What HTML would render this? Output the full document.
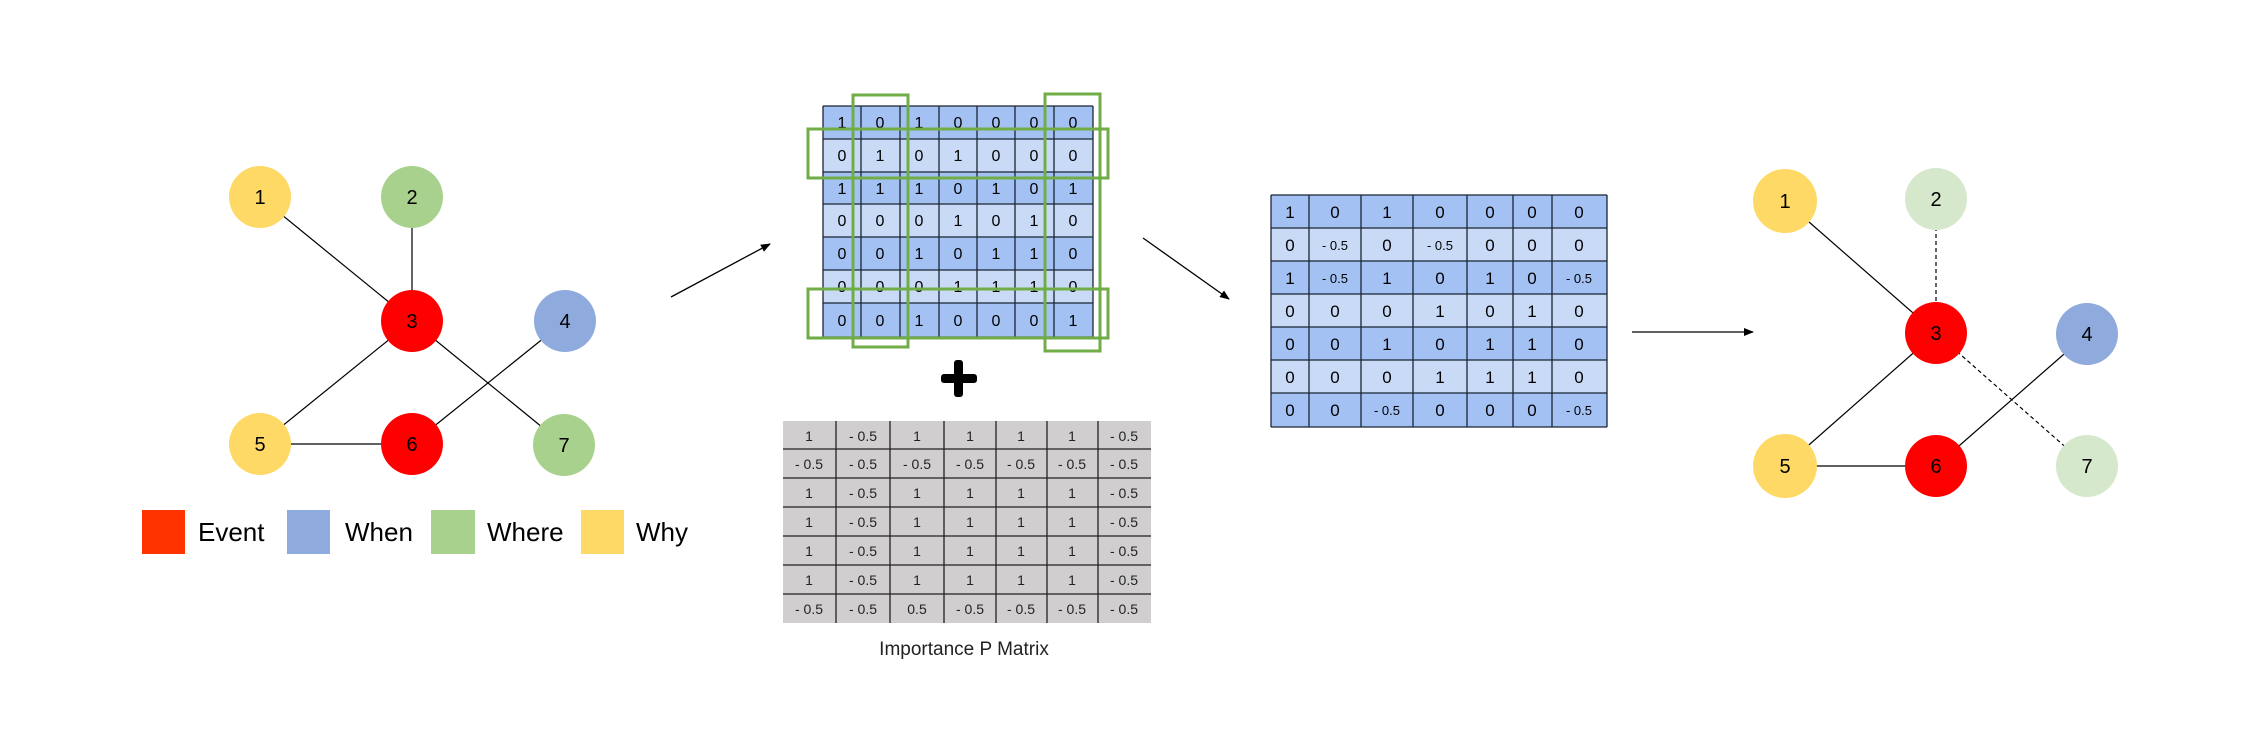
<!DOCTYPE html>
<html><head><meta charset="utf-8"><style>
html,body{margin:0;padding:0;background:#fff;}
svg{display:block;font-family:"Liberation Sans",Arial,sans-serif;}
</style></head><body>
<svg width="2268" height="756" viewBox="0 0 2268 756" xmlns="http://www.w3.org/2000/svg">
<defs>
<marker id="ah" markerWidth="10" markerHeight="10" refX="9" refY="5" orient="auto" markerUnits="userSpaceOnUse">
<path d="M0,1 L10,5 L0,9 z" fill="#000"/></marker>
</defs>
<rect width="2268" height="756" fill="#fff"/>

<!-- Left graph edges -->
<g stroke="#000" stroke-width="1.2">
<line x1="260" y1="197" x2="412" y2="321"/>
<line x1="412" y1="197" x2="412" y2="321"/>
<line x1="412" y1="321" x2="260" y2="444"/>
<line x1="412" y1="321" x2="564" y2="445"/>
<line x1="565" y1="321" x2="412" y2="444"/>
<line x1="260" y1="444" x2="412" y2="444"/>
</g>
<g font-size="20" text-anchor="middle">
<circle cx="260" cy="197" r="31" fill="#ffd966"/><text x="260" y="204">1</text>
<circle cx="412" cy="197" r="31" fill="#a9d18e"/><text x="412" y="204">2</text>
<circle cx="412" cy="321" r="31" fill="#ff0000"/><text x="412" y="328">3</text>
<circle cx="565" cy="321" r="31" fill="#8faadc"/><text x="565" y="328">4</text>
<circle cx="260" cy="444" r="31" fill="#ffd966"/><text x="260" y="451">5</text>
<circle cx="412" cy="444" r="31" fill="#ff0000"/><text x="412" y="451">6</text>
<circle cx="564" cy="445" r="31" fill="#a9d18e"/><text x="564" y="452">7</text>
</g>
<!-- legend -->
<g font-size="26">
<rect x="142" y="510" width="43" height="44" fill="#ff3300"/><text x="198" y="541">Event</text>
<rect x="287" y="510" width="43" height="44" fill="#8faadc"/><text x="345" y="541">When</text>
<rect x="431" y="510" width="44" height="44" fill="#a9d18e"/><text x="487" y="541">Where</text>
<rect x="581" y="510" width="43" height="44" fill="#ffd966"/><text x="636" y="541">Why</text>
</g>

<!-- arrows -->
<g stroke="#000" stroke-width="1.3" marker-end="url(#ah)">
<line x1="671" y1="297" x2="770" y2="244"/>
<line x1="1143" y1="238" x2="1229" y2="299"/>
<line x1="1632" y1="332" x2="1753" y2="332"/>
</g>

<!-- Matrix 1 -->
<g id="m1" font-size="16" text-anchor="middle">
<rect x="823" y="106" width="270" height="33" fill="#a3c1f3"/>
<rect x="823" y="139" width="270" height="33" fill="#c9daf7"/>
<rect x="823" y="172" width="270" height="32" fill="#a3c1f3"/>
<rect x="823" y="204" width="270" height="33" fill="#c9daf7"/>
<rect x="823" y="237" width="270" height="33" fill="#a3c1f3"/>
<rect x="823" y="270" width="270" height="33" fill="#c9daf7"/>
<rect x="823" y="303" width="270" height="34" fill="#a3c1f3"/>
<g stroke="#1a2533" stroke-width="1.3">
<line x1="823" y1="106" x2="823" y2="337"/><line x1="861" y1="106" x2="861" y2="337"/><line x1="900" y1="106" x2="900" y2="337"/><line x1="939" y1="106" x2="939" y2="337"/><line x1="977" y1="106" x2="977" y2="337"/><line x1="1015" y1="106" x2="1015" y2="337"/><line x1="1054" y1="106" x2="1054" y2="337"/><line x1="1093" y1="106" x2="1093" y2="337"/>
<line x1="823" y1="106" x2="1093" y2="106"/><line x1="823" y1="139" x2="1093" y2="139"/><line x1="823" y1="172" x2="1093" y2="172"/><line x1="823" y1="204" x2="1093" y2="204"/><line x1="823" y1="237" x2="1093" y2="237"/><line x1="823" y1="270" x2="1093" y2="270"/><line x1="823" y1="303" x2="1093" y2="303"/><line x1="823" y1="337" x2="1093" y2="337"/>
</g>
<g>
<text x="842" y="128">1</text><text x="880" y="128">0</text><text x="919" y="128">1</text><text x="958" y="128">0</text><text x="996" y="128">0</text><text x="1034" y="128">0</text><text x="1073" y="128">0</text>
<text x="842" y="161">0</text><text x="880" y="161">1</text><text x="919" y="161">0</text><text x="958" y="161">1</text><text x="996" y="161">0</text><text x="1034" y="161">0</text><text x="1073" y="161">0</text>
<text x="842" y="194">1</text><text x="880" y="194">1</text><text x="919" y="194">1</text><text x="958" y="194">0</text><text x="996" y="194">1</text><text x="1034" y="194">0</text><text x="1073" y="194">1</text>
<text x="842" y="226">0</text><text x="880" y="226">0</text><text x="919" y="226">0</text><text x="958" y="226">1</text><text x="996" y="226">0</text><text x="1034" y="226">1</text><text x="1073" y="226">0</text>
<text x="842" y="259">0</text><text x="880" y="259">0</text><text x="919" y="259">1</text><text x="958" y="259">0</text><text x="996" y="259">1</text><text x="1034" y="259">1</text><text x="1073" y="259">0</text>
<text x="842" y="292">0</text><text x="880" y="292">0</text><text x="919" y="292">0</text><text x="958" y="292">1</text><text x="996" y="292">1</text><text x="1034" y="292">1</text><text x="1073" y="292">0</text>
<text x="842" y="326">0</text><text x="880" y="326">0</text><text x="919" y="326">1</text><text x="958" y="326">0</text><text x="996" y="326">0</text><text x="1034" y="326">0</text><text x="1073" y="326">1</text>
</g>
<g fill="none" stroke="#70ad47" stroke-width="3">
<rect x="853" y="95" width="55" height="252"/>
<rect x="1045" y="94" width="55" height="257"/>
<rect x="808" y="129" width="300" height="49"/>
<rect x="808" y="289" width="300" height="49"/>
</g>
</g>

<!-- plus -->
<rect x="941" y="374" width="36" height="9" rx="3" fill="#000"/>
<rect x="954" y="360" width="9" height="37" rx="3" fill="#000"/>

<!-- P matrix -->
<rect x="783" y="421" width="368" height="202" fill="#d0cece"/>
<g stroke="#222" stroke-width="1.3">
<line x1="836" y1="421" x2="836" y2="623"/><line x1="890" y1="421" x2="890" y2="623"/><line x1="944" y1="421" x2="944" y2="623"/><line x1="996" y1="421" x2="996" y2="623"/><line x1="1047" y1="421" x2="1047" y2="623"/><line x1="1098" y1="421" x2="1098" y2="623"/>
<line x1="783" y1="449" x2="1151" y2="449"/><line x1="783" y1="478" x2="1151" y2="478"/><line x1="783" y1="507" x2="1151" y2="507"/><line x1="783" y1="536" x2="1151" y2="536"/><line x1="783" y1="565" x2="1151" y2="565"/><line x1="783" y1="594" x2="1151" y2="594"/>
</g>
<g font-size="14" text-anchor="middle" fill="#222">
<text x="809" y="441">1</text><text x="863" y="441">- 0.5</text><text x="917" y="441">1</text><text x="970" y="441">1</text><text x="1021" y="441">1</text><text x="1072" y="441">1</text><text x="1124" y="441">- 0.5</text>
<text x="809" y="469">- 0.5</text><text x="863" y="469">- 0.5</text><text x="917" y="469">- 0.5</text><text x="970" y="469">- 0.5</text><text x="1021" y="469">- 0.5</text><text x="1072" y="469">- 0.5</text><text x="1124" y="469">- 0.5</text>
<text x="809" y="498">1</text><text x="863" y="498">- 0.5</text><text x="917" y="498">1</text><text x="970" y="498">1</text><text x="1021" y="498">1</text><text x="1072" y="498">1</text><text x="1124" y="498">- 0.5</text>
<text x="809" y="527">1</text><text x="863" y="527">- 0.5</text><text x="917" y="527">1</text><text x="970" y="527">1</text><text x="1021" y="527">1</text><text x="1072" y="527">1</text><text x="1124" y="527">- 0.5</text>
<text x="809" y="556">1</text><text x="863" y="556">- 0.5</text><text x="917" y="556">1</text><text x="970" y="556">1</text><text x="1021" y="556">1</text><text x="1072" y="556">1</text><text x="1124" y="556">- 0.5</text>
<text x="809" y="585">1</text><text x="863" y="585">- 0.5</text><text x="917" y="585">1</text><text x="970" y="585">1</text><text x="1021" y="585">1</text><text x="1072" y="585">1</text><text x="1124" y="585">- 0.5</text>
<text x="809" y="614">- 0.5</text><text x="863" y="614">- 0.5</text><text x="917" y="614">0.5</text><text x="970" y="614">- 0.5</text><text x="1021" y="614">- 0.5</text><text x="1072" y="614">- 0.5</text><text x="1124" y="614">- 0.5</text>
</g>
<text x="964" y="655" font-size="19" text-anchor="middle" fill="#222">Importance P Matrix</text>

<!-- Result matrix -->
<g font-size="17" text-anchor="middle">
<rect x="1271" y="195" width="336" height="33" fill="#a3c1f3"/>
<rect x="1271" y="228" width="336" height="33" fill="#c9daf7"/>
<rect x="1271" y="261" width="336" height="33" fill="#a3c1f3"/>
<rect x="1271" y="294" width="336" height="33" fill="#c9daf7"/>
<rect x="1271" y="327" width="336" height="33" fill="#a3c1f3"/>
<rect x="1271" y="360" width="336" height="33" fill="#c9daf7"/>
<rect x="1271" y="393" width="336" height="34" fill="#a3c1f3"/>
<g stroke="#1a2533" stroke-width="1.3">
<line x1="1271" y1="195" x2="1271" y2="427"/><line x1="1309" y1="195" x2="1309" y2="427"/><line x1="1361" y1="195" x2="1361" y2="427"/><line x1="1413" y1="195" x2="1413" y2="427"/><line x1="1467" y1="195" x2="1467" y2="427"/><line x1="1513" y1="195" x2="1513" y2="427"/><line x1="1552" y1="195" x2="1552" y2="427"/><line x1="1607" y1="195" x2="1607" y2="427"/>
<line x1="1271" y1="195" x2="1607" y2="195"/><line x1="1271" y1="228" x2="1607" y2="228"/><line x1="1271" y1="261" x2="1607" y2="261"/><line x1="1271" y1="294" x2="1607" y2="294"/><line x1="1271" y1="327" x2="1607" y2="327"/><line x1="1271" y1="360" x2="1607" y2="360"/><line x1="1271" y1="393" x2="1607" y2="393"/><line x1="1271" y1="427" x2="1607" y2="427"/>
</g>
<g>
<text x="1290" y="218">1</text><text x="1335" y="218">0</text><text x="1387" y="218">1</text><text x="1440" y="218">0</text><text x="1490" y="218">0</text><text x="1532" y="218">0</text><text x="1579" y="218">0</text>
<text x="1290" y="251">0</text><text x="1335" y="250" font-size="13">- 0.5</text><text x="1387" y="251">0</text><text x="1440" y="250" font-size="13">- 0.5</text><text x="1490" y="251">0</text><text x="1532" y="251">0</text><text x="1579" y="251">0</text>
<text x="1290" y="284">1</text><text x="1335" y="283" font-size="13">- 0.5</text><text x="1387" y="284">1</text><text x="1440" y="284">0</text><text x="1490" y="284">1</text><text x="1532" y="284">0</text><text x="1579" y="283" font-size="13">- 0.5</text>
<text x="1290" y="317">0</text><text x="1335" y="317">0</text><text x="1387" y="317">0</text><text x="1440" y="317">1</text><text x="1490" y="317">0</text><text x="1532" y="317">1</text><text x="1579" y="317">0</text>
<text x="1290" y="350">0</text><text x="1335" y="350">0</text><text x="1387" y="350">1</text><text x="1440" y="350">0</text><text x="1490" y="350">1</text><text x="1532" y="350">1</text><text x="1579" y="350">0</text>
<text x="1290" y="383">0</text><text x="1335" y="383">0</text><text x="1387" y="383">0</text><text x="1440" y="383">1</text><text x="1490" y="383">1</text><text x="1532" y="383">1</text><text x="1579" y="383">0</text>
<text x="1290" y="416">0</text><text x="1335" y="416">0</text><text x="1387" y="415" font-size="13">- 0.5</text><text x="1440" y="416">0</text><text x="1490" y="416">0</text><text x="1532" y="416">0</text><text x="1579" y="415" font-size="13">- 0.5</text>
</g>
</g>

<!-- Right graph -->
<g stroke="#000" stroke-width="1.2">
<line x1="1785" y1="201" x2="1936" y2="333"/>
<line x1="1936" y1="199" x2="1936" y2="333" stroke-dasharray="4,3"/>
<line x1="1936" y1="333" x2="1785" y2="466"/>
<line x1="1936" y1="333" x2="2087" y2="466" stroke-dasharray="4,3"/>
<line x1="2087" y1="334" x2="1936" y2="466"/>
<line x1="1785" y1="466" x2="1936" y2="466"/>
</g>
<g font-size="20" text-anchor="middle">
<circle cx="1785" cy="201" r="32" fill="#ffd966"/><text x="1785" y="208">1</text>
<circle cx="1936" cy="199" r="31" fill="#d5e8cc"/><text x="1936" y="206">2</text>
<circle cx="1936" cy="333" r="31" fill="#ff0000"/><text x="1936" y="340">3</text>
<circle cx="2087" cy="334" r="31" fill="#8faadc"/><text x="2087" y="341">4</text>
<circle cx="1785" cy="466" r="32" fill="#ffd966"/><text x="1785" y="473">5</text>
<circle cx="1936" cy="466" r="31" fill="#ff0000"/><text x="1936" y="473">6</text>
<circle cx="2087" cy="466" r="31" fill="#d5e8cc"/><text x="2087" y="473">7</text>
</g>
</svg>
</body></html>
